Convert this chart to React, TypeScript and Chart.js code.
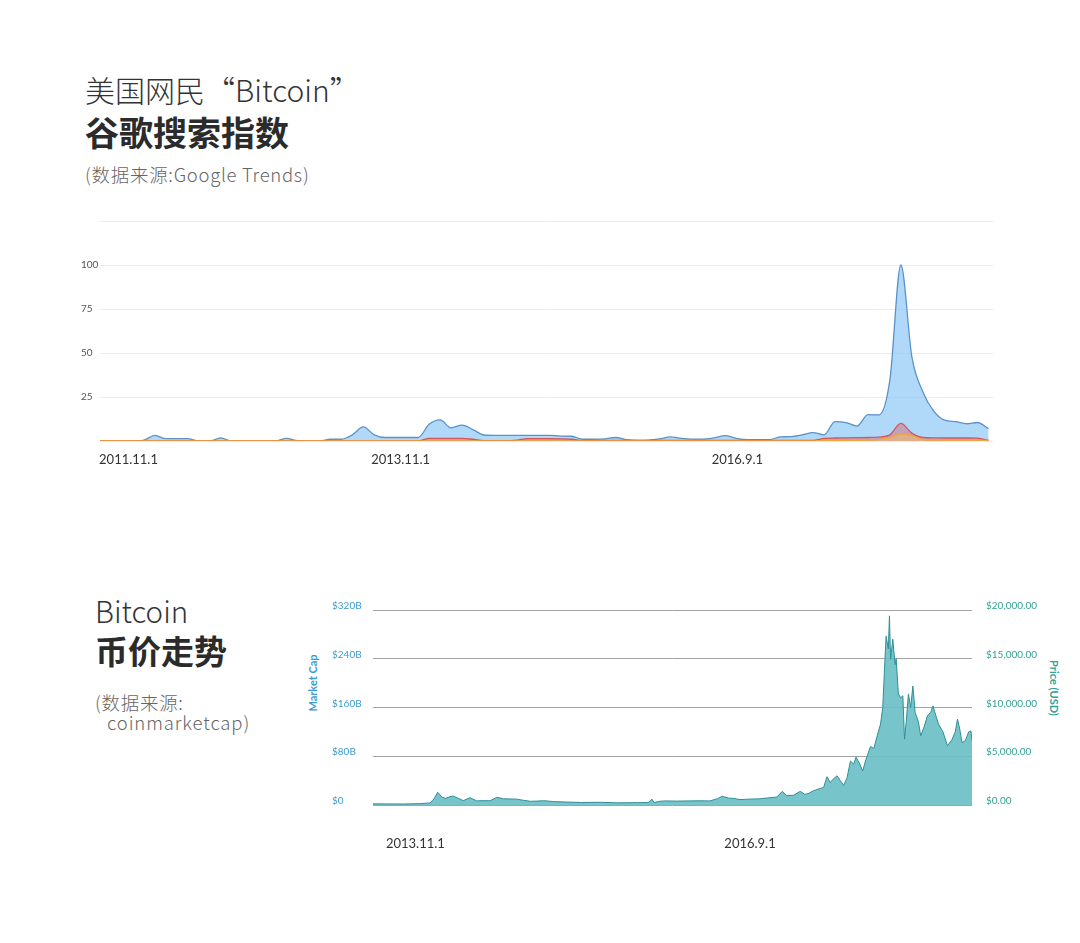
import { useEffect, useRef } from "react"
import { Chart, registerables } from "chart.js"

Chart.register(...registerables)

Chart.defaults.font.family = "Lato, 'Noto Sans', sans-serif"

// Google Trends, monthly from 2011.11 (index 0) to 2018.8
const searchMonths = Array.from({ length: 82 }, (_, i) => {
  const m = 10 + i
  return `${2011 + Math.floor(m / 12)}.${(m % 12) + 1}`
})

const searchBlue = [
  0, 0, 0, 0, 0.5, 3.2, 1.3, 1.3, 1.3, 0,
  0, 1.7, 0, 0, 0, 0, 0, 1.5, 0.2, 0,
  0, 1, 1, 3.5, 8, 3.5, 2, 2, 2, 2,
  9.5, 12, 7.5, 9, 6.5, 3.4, 3.2, 3.2, 3.2, 3.2,
  3.2, 3.2, 2.8, 2.7, 1, 1, 1.2, 2, 0.8, 0.4,
  0.5, 1.2, 2.3, 1.5, 1.1, 1.1, 1.8, 3, 1.5, 0.8,
  0.8, 0.8, 2.3, 2.5, 3.5, 4.8, 3.5, 11, 10.5, 8.5,
  15, 14.8, 34.7, 100, 48, 28, 17, 11.8, 11, 9.8,
  10.5, 7,
]

const searchRed = [
  0, 0, 0, 0, 0, 0, 0, 0, 0, 0,
  0, 0, 0, 0, 0, 0, 0, 0, 0, 0,
  0, 0, 0, 0, 0, 0, 0, 0, 0, 0,
  1.5, 1.5, 1.5, 1.5, 1, 0.2, 0.2, 0.2, 0.5, 1.3,
  1.3, 1.3, 1.2, 1, 0.3, 0.3, 0.3, 0.3, 0.3, 0.3,
  0.3, 0.3, 0.4, 0.3, 0.3, 0.3, 0.3, 0.3, 0.3, 0.3,
  0.3, 0.3, 0.3, 0.3, 0.3, 0.3, 1.5, 1.7, 1.8, 1.9,
  2, 2.2, 3.5, 10, 4.5, 2, 1.8, 1.7, 1.7, 1.7,
  1.6, 0.3,
]

const searchOrange = [
  0, 0, 0, 0, 0, 0, 0, 0, 0, 0,
  0, 0, 0, 0, 0, 0, 0, 0, 0, 0,
  0, 0, 0, 0, 0, 0, 0, 0, 0, 0,
  0, 0, 0, 0, 0, 0, 0, 0, 0, 0,
  0, 0, 0, 0, 0, 0, 0, 0, 0, 0,
  0, 0, 0, 0, 0, 0, 0, 0, 0, 0,
  0, 0, 0, 0, 0, 0, 0.4, 0.4, 0.4, 0.4,
  0.5, 0.8, 2, 4, 3, 1, 0.5, 0.5, 0.5, 0.5,
  0.5, 0.3,
]

const searchTickLabels = ["2011.11.1", "2013.11.1", "2016.9.1"]
const searchTickAt = [2.6, 27.4, 58.1]
const searchYTicks = [25, 50, 75, 100]

// coinmarketcap price (USD), by decimal year
const priceDates = [
  2013.33, 2013.45, 2013.6, 2013.75, 2013.84, 2013.87, 2013.91, 2013.95, 2013.98, 2014.02,
  2014.05, 2014.1, 2014.14, 2014.2, 2014.26, 2014.32, 2014.38, 2014.44, 2014.5, 2014.62,
  2014.68, 2014.74, 2014.8, 2014.86, 2014.95, 2015.07, 2015.2, 2015.37, 2015.52, 2015.6,
  2015.7, 2015.79, 2015.81, 2015.83, 2015.85, 2015.9, 2015.95, 2016.05, 2016.26, 2016.35,
  2016.42, 2016.46, 2016.52, 2016.56, 2016.62, 2016.7, 2016.8, 2016.95, 2017.0, 2017.04,
  2017.1, 2017.16, 2017.2, 2017.23, 2017.28, 2017.34, 2017.37, 2017.4, 2017.43, 2017.45,
  2017.49, 2017.52, 2017.55, 2017.58, 2017.61, 2017.64, 2017.66, 2017.69, 2017.72, 2017.75,
  2017.79, 2017.82, 2017.85, 2017.88, 2017.9, 2017.92, 2017.93, 2017.95, 2017.96, 2017.97,
  2017.99, 2018.01, 2018.02, 2018.04, 2018.06, 2018.08, 2018.095, 2018.11, 2018.13, 2018.15,
  2018.17, 2018.19, 2018.22, 2018.24, 2018.27, 2018.3, 2018.33, 2018.35, 2018.38, 2018.4,
  2018.44, 2018.48, 2018.52, 2018.55, 2018.57, 2018.59, 2018.61, 2018.64, 2018.67, 2018.69,
  2018.7,
]

const priceUsd = [
  120, 110, 100, 140, 210, 500, 1300, 800, 680, 850,
  920, 650, 450, 750, 420, 450, 430, 790, 640, 600,
  480, 380, 400, 440, 350, 300, 260, 280, 220, 230,
  240, 250, 330, 600, 260, 380, 420, 400, 430, 420,
  650, 900, 700, 680, 550, 600, 640, 820, 1400, 950,
  1000, 1400, 1100, 1160, 1470, 1700, 1800, 2900, 2300, 2600,
  3000, 2500, 2000, 2800, 4500, 4200, 4900, 4300, 3500, 4700,
  6000, 5800, 7100, 8300, 10000, 15000, 17300, 16000, 19400, 14950,
  17000, 14400, 15000, 11400, 11000, 11200, 6760, 8500, 11400, 10000,
  12200, 9500, 8500, 7100, 8000, 9150, 9500, 10170, 9000, 8290,
  7500, 6070, 6700, 7500, 8800, 7800, 6400, 6600, 7500, 7600,
  6590,
]

const priceTickLabels = ["2013.11.1", "2016.9.1"]
const priceTickAt = [2013.71, 2016.71]
const capTicksB = [0, 80, 160, 240, 320]
const priceTicks = [0, 5000, 10000, 15000, 20000]

function SearchChart() {
  const chartRef = useRef<HTMLCanvasElement>(null)

  useEffect(() => {
    const ctx = chartRef.current?.getContext("2d")
    if (!ctx) return

    const pts = (vals: number[]) => vals.map((y, i) => ({ x: i, y }))
    const common = {
      fill: "origin",
      borderWidth: 1.3,
      pointRadius: 0,
      cubicInterpolationMode: "monotone" as const,
    }

    const chart = new Chart(ctx, {
      type: "line",
      data: {
        labels: searchMonths,
        datasets: [
          { ...common, label: "orange", data: pts(searchOrange), borderColor: "#f2a33a", backgroundColor: "rgba(246,186,100,0.55)", order: 0 },
          { ...common, label: "red", data: pts(searchRed), borderColor: "#d4575e", backgroundColor: "rgba(214,96,108,0.45)", order: 1 },
          { ...common, label: "blue", data: pts(searchBlue), borderColor: "#5b92c8", backgroundColor: "rgba(128,193,245,0.62)", order: 2 },
        ],
      },
      options: {
        animation: false,
        responsive: true,
        maintainAspectRatio: false,
        layout: { padding: { top: 21, right: 8, bottom: 0, left: 0 } },
        plugins: { legend: { display: false }, tooltip: { enabled: false } },
        scales: {
          x: {
            type: "linear",
            min: 0,
            max: 81.4,
            grid: { display: false, drawTicks: false },
            border: { display: false },
            afterBuildTicks: (s) => {
              s.ticks = searchTickAt.map((value) => ({ value }))
            },
            afterFit: (s) => {
              s.height = 29
            },
            ticks: {
              autoSkip: false,
              maxRotation: 0,
              padding: 11,
              color: "#333",
              font: { size: 13 },
              callback: (_v, i) => searchTickLabels[i],
            },
          },
          y: {
            min: 0,
            max: 125,
            afterFit: (s) => {
              s.width = 19
            },
            grid: { color: "#ededed", drawTicks: false },
            border: { display: false },
            ticks: {
              stepSize: 25,
              padding: 2,
              crossAlign: "far",
              color: "#555",
              font: { size: 10 },
              callback: (v) => (searchYTicks.includes(Number(v)) ? String(v) : ""),
            },
          },
        },
      },
    })

    return () => chart.destroy()
  }, [])

  return (
    <div style={{ position: "absolute", left: 81, top: 200, width: 920, height: 270 }}>
      <canvas ref={chartRef} />
    </div>
  )
}

function PriceChart() {
  const chartRef = useRef<HTMLCanvasElement>(null)

  useEffect(() => {
    const ctx = chartRef.current?.getContext("2d")
    if (!ctx) return

    const chart = new Chart(ctx, {
      type: "line",
      data: {
        datasets: [
          {
            label: "Price (USD)",
            data: priceDates.map((x, i) => ({ x, y: priceUsd[i] })),
            yAxisID: "yPrice",
            borderColor: "#2f8e96",
            borderWidth: 1,
            backgroundColor: "rgba(104,191,196,0.9)",
            fill: "origin",
            pointRadius: 0,
            tension: 0,
          },
        ],
      },
      options: {
        animation: false,
        responsive: true,
        maintainAspectRatio: false,
        layout: { padding: { top: 17, right: 14, bottom: 0, left: 0 } },
        plugins: { legend: { display: false }, tooltip: { enabled: false } },
        scales: {
          x: {
            type: "linear",
            min: 2013.33,
            max: 2018.7,
            grid: { display: false, drawTicks: false },
            border: { display: false },
            afterBuildTicks: (s) => {
              s.ticks = priceTickAt.map((value) => ({ value }))
            },
            afterFit: (s) => {
              s.height = 65
            },
            ticks: {
              autoSkip: false,
              maxRotation: 0,
              padding: 31,
              color: "#333",
              font: { size: 13 },
              callback: (_v, i) => priceTickLabels[i],
            },
          },
          yCap: {
            type: "linear",
            position: "left",
            min: 0,
            max: 320,
            afterFit: (s) => {
              s.width = 41
            },
            grid: { color: "#a3a3a3", drawTicks: false },
            border: { display: false },
            afterBuildTicks: (s) => {
              s.ticks = capTicksB.map((value) => ({ value }))
            },
            ticks: {
              crossAlign: "far",
              labelOffset: -4,
              color: "#3c9ccf",
              font: { size: 10 },
              callback: (v) => (Number(v) === 0 ? "$0" : `$${v}B`),
            },
          },
          yPrice: {
            type: "linear",
            position: "right",
            min: 0,
            max: 20000,
            afterFit: (s) => {
              s.width = 94
            },
            grid: { display: false, drawTicks: false },
            border: { display: false },
            afterBuildTicks: (s) => {
              s.ticks = priceTicks.map((value) => ({ value }))
            },
            ticks: {
              padding: 14,
              labelOffset: -4,
              color: "#35a096",
              font: { size: 10 },
              callback: (v) =>
                "$" + Number(v).toLocaleString("en-US", { minimumFractionDigits: 2, maximumFractionDigits: 2 }),
            },
          },
        },
      },
    })

    return () => chart.destroy()
  }, [])

  return (
    <div style={{ position: "absolute", left: 332, top: 590, width: 748, height: 280 }}>
      <canvas ref={chartRef} />
    </div>
  )
}

const cjk = "'Noto Sans CJK SC', 'Noto Sans', sans-serif"

function Text({ left, top, size, weight = 400, color = "#333", spacing = 0, children }: any) {
  return (
    <div
      style={{
        position: "absolute",
        left,
        top,
        fontFamily: cjk,
        fontSize: size,
        fontWeight: weight,
        lineHeight: 1,
        letterSpacing: spacing,
        color,
        whiteSpace: "nowrap",
      }}
    >
      {children}
    </div>
  )
}

export default function App() {
  return (
    <div style={{ position: "absolute", left: 0, top: 0, width: 1080, height: 943, background: "#fff", overflow: "hidden" }}>
      <Text left={85} top={74} size={30} weight={300}>美国网民“Bitcoin”</Text>
      <Text left={85} top={115} size={34} weight={700} color="#2b2b2b">谷歌搜索指数</Text>
      <Text left={85} top={165} size={18.5} weight={300} color="#666" spacing={0.7}>(数据来源:Google Trends)</Text>

      <SearchChart />

      <Text left={95} top={596} size={29.5} weight={300}>Bitcoin</Text>
      <Text left={95} top={634} size={33} weight={700} color="#2b2b2b">币价走势</Text>
      <Text left={95} top={693} size={18.5} weight={300} color="#666" spacing={0.7}>(数据来源:</Text>
      <Text left={107} top={713} size={18.5} weight={300} color="#666" spacing={0.9}>coinmarketcap)</Text>

      <div
        style={{
          position: "absolute",
          left: 312,
          top: 683,
          transform: "translate(-50%, -50%) rotate(-90deg)",
          fontFamily: "Lato, sans-serif",
          fontSize: 11,
          fontWeight: 700,
          color: "#3c9ccf",
          whiteSpace: "nowrap",
        }}
      >
        Market Cap
      </div>
      <div
        style={{
          position: "absolute",
          left: 1054,
          top: 688,
          transform: "translate(-50%, -50%) rotate(90deg)",
          fontFamily: "Lato, sans-serif",
          fontSize: 11,
          fontWeight: 700,
          color: "#35a096",
          whiteSpace: "nowrap",
        }}
      >
        Price (USD)
      </div>

      <PriceChart />
    </div>
  )
}
